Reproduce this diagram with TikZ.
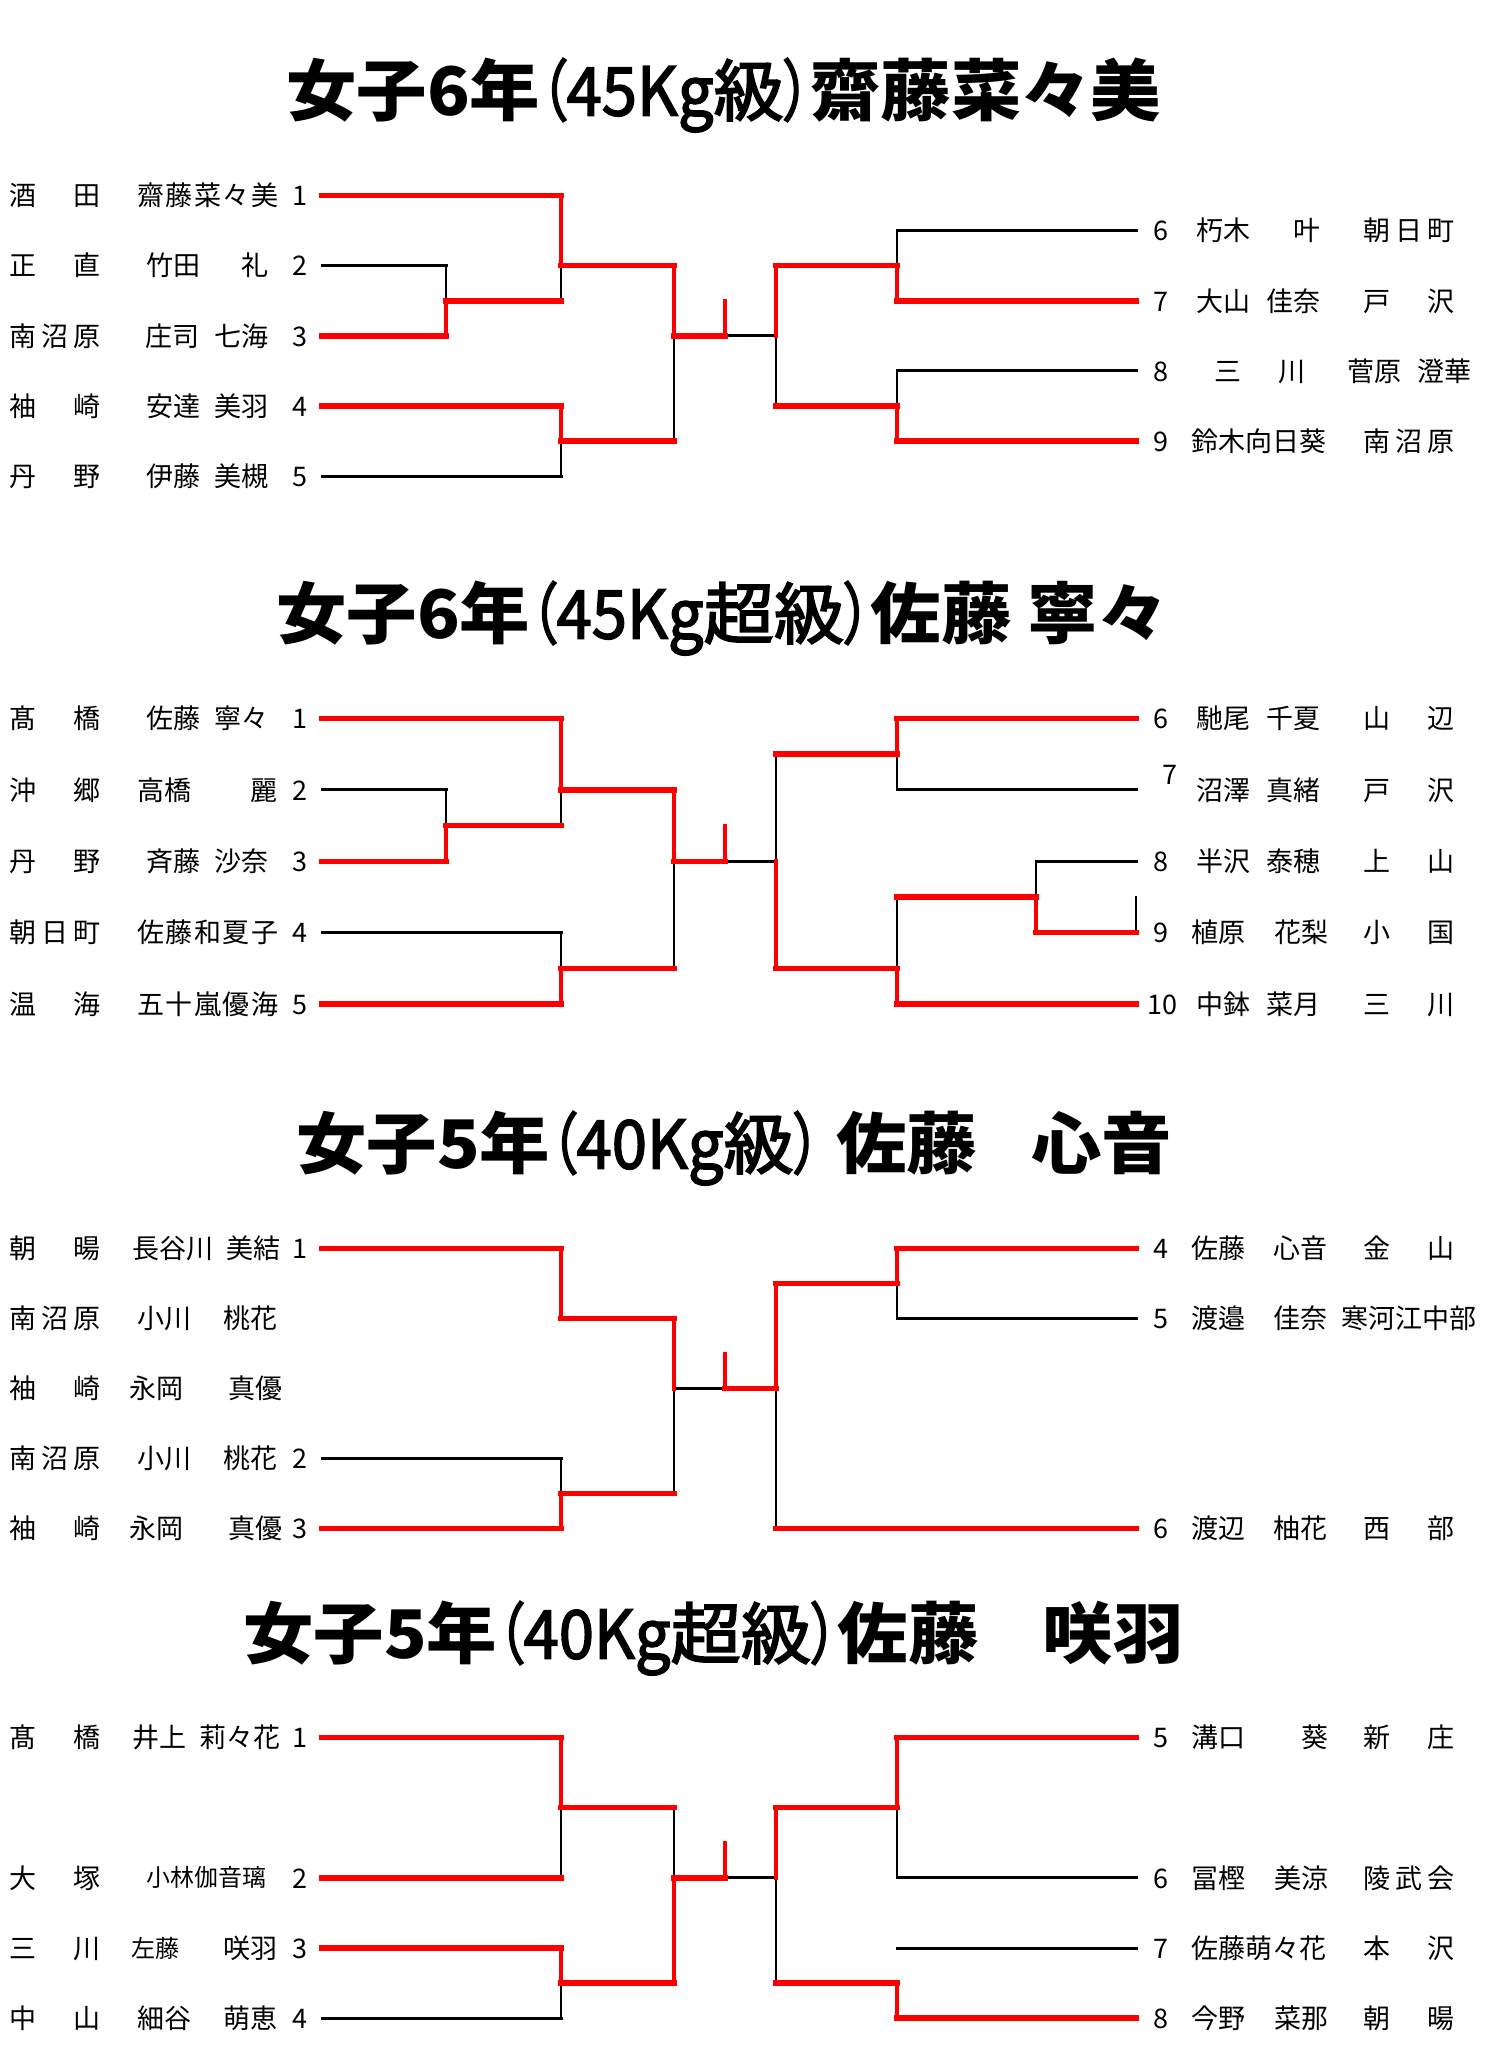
\documentclass[tikz,border=0pt]{standalone}
\usepackage{fontspec}
\usepackage{graphicx}
\newfontfamily\jp{Noto Sans CJK JP}
\newfontfamily\jpt[FakeStretch=1.05,RawFeature=+palt]{Noto Sans CJK JP}
\newfontfamily\jptm[FakeStretch=1.05,FakeBold=2.5,RawFeature=+palt]{Noto Sans CJK JP}
\newcommand\tp[1]{\scalebox{0.75}[1]{#1}}
\newcommand\tq[1]{\scalebox{0.9}[1]{#1}}
\newcommand\ttlmid[1]{{\jptm\mdseries#1}}
\newcommand\fivech[5]{\makebox[70.5pt]{#1\hfill#2\hfill#3\hfill#4\hfill#5}}
\newcommand\tmtwo[2]{\makebox[45.5pt]{#1\hfill#2}}
\newcommand\tmthree[3]{\makebox[45.5pt]{#1\hfill#2\hfill#3}}
\begin{document}
\begin{tikzpicture}[x=0.5pt,y=-0.5pt,
 bh/.style={line width=1.5pt,line cap=rect},
 bv/.style={line width=1.1pt,line cap=rect},
 rh/.style={line width=2.75pt,red,line cap=rect},
 rv/.style={line width=2pt,red,line cap=rect},
 txt/.style={inner sep=0pt,font=\jp\fontsize{13.5pt}{16pt}\selectfont,text height=11.2pt,text depth=0.95pt},
 sm/.style={inner sep=0pt,font=\jp\fontsize{12pt}{14pt}\selectfont,text height=10pt,text depth=0.85pt},
 ttl/.style={inner sep=0pt,font=\jpt\bfseries\fontsize{33.5pt}{40pt}\selectfont,text height=27.8pt,text depth=2.35pt}]
\fill[white] (0,0) rectangle (1484,2048);
\useasboundingbox (0,0) rectangle (1484,2048);

% ---------- titles ----------
\node[ttl,anchor=west] (t1) at (286,90) {女子6年\ttlmid{\tp{（}\tq{45Kg}級\tp{）}}齋藤菜々美};
\node[ttl,anchor=west] (t2) at (276,613) {女子6年\ttlmid{\tp{（}\tq{45Kg}超級\tp{）}}佐藤 寧々};
\node[ttl,anchor=west] (t3) at (296,1143) {女子5年\ttlmid{\tp{（}\tq{40Kg}級\tp{）}} 佐藤\hspace{27pt}心音};
\node[ttl,anchor=west] (t4) at (243,1633) {女子5年\ttlmid{\tp{（}\tq{40Kg}超級\tp{）}}佐藤　\hspace{-3pt}咲羽};

% ================= Section 1 =================
\draw[bh] (322,265.7) -- (446,265.7);
\draw[bv] (446,265.7) -- (446,300.8);
\draw[bv] (561,265.7) -- (561,300.8);
\draw[bh] (322,476.3) -- (561,476.3);
\draw[bv] (561,441.2) -- (561,476.3);
\draw[bv] (674,335.9) -- (674,441.2);
\draw[bh] (725,335.9) -- (776,335.9);
\draw[bv] (776,335.9) -- (776,406.1);
\draw[bh] (897,230.6) -- (1136,230.6);
\draw[bv] (897,230.6) -- (897,265.7);
\draw[bh] (897,371.0) -- (1136,371.0);
\draw[bv] (897,371.0) -- (897,406.1);
\draw[rh] (322,195.5) -- (561,195.5);
\draw[rv] (561,195.5) -- (561,265.7);
\draw[rh] (561,265.7) -- (674,265.7);
\draw[rh] (322,335.9) -- (446,335.9);
\draw[rv] (446,300.8) -- (446,335.9);
\draw[rh] (446,300.8) -- (561,300.8);
\draw[rh] (322,406.1) -- (561,406.1);
\draw[rv] (561,406.1) -- (561,441.2);
\draw[rh] (561,441.2) -- (674,441.2);
\draw[rv] (674,265.7) -- (674,335.9);
\draw[rh] (674,335.9) -- (725,335.9);
\draw[rv] (725,300.8) -- (725,335.9);
\draw[rh] (776,265.7) -- (897,265.7);
\draw[rv] (897,265.7) -- (897,300.8);
\draw[rh] (897,300.8) -- (1136,300.8);
\draw[rh] (776,406.1) -- (897,406.1);
\draw[rv] (897,406.1) -- (897,441.2);
\draw[rh] (897,441.2) -- (1136,441.2);
\draw[rv] (776,265.7) -- (776,335.9);

\node[txt,anchor=west] (s1a1) at (9,195.5) {\tmtwo{酒}{田}};
\node[txt,anchor=west] (s1b1) at (137,195.5) {\fivech{齋}{藤}{菜}{々}{美}};
\node[txt] (s1n1) at (300,195.5) {1};
\node[txt,anchor=west] (s1a2) at (9,265.7) {\tmtwo{正}{直}};
\node[txt,anchor=west] (s1b2) at (146,265.7) {竹田};
\node[txt,anchor=east] (s1c2) at (269,265.7) {礼};
\node[txt] (s1n2) at (300,265.7) {2};
\node[txt,anchor=west] (s1a3) at (9,335.9) {\tmthree{南}{沼}{原}};
\node[txt,anchor=west] (s1b3) at (145,335.9) {庄司};
\node[txt,anchor=east] (s1c3) at (269,335.9) {七海};
\node[txt] (s1n3) at (300,335.9) {3};
\node[txt,anchor=west] (s1a4) at (9,406.1) {\tmtwo{袖}{崎}};
\node[txt,anchor=west] (s1b4) at (146,406.1) {安達};
\node[txt,anchor=east] (s1c4) at (269,406.1) {美羽};
\node[txt] (s1n4) at (300,406.1) {4};
\node[txt,anchor=west] (s1a5) at (9,476.3) {\tmtwo{丹}{野}};
\node[txt,anchor=west] (s1b5) at (146,476.3) {伊藤};
\node[txt,anchor=east] (s1c5) at (269,476.3) {美槻};
\node[txt] (s1n5) at (300,476.3) {5};

\node[txt] (s1n6) at (1161,230.6) {6};
\node[txt,anchor=west] (s1b6) at (1196,230.6) {朽木};
\node[txt,anchor=east] (s1c6) at (1321,230.6) {叶};
\node[txt,anchor=west] (s1a6) at (1363,230.6) {\tmthree{朝}{日}{町}};
\node[txt] (s1n7) at (1161,300.8) {7};
\node[txt,anchor=west] (s1b7) at (1196,300.8) {大山};
\node[txt,anchor=east] (s1c7) at (1321,300.8) {佳奈};
\node[txt,anchor=west] (s1a7) at (1363,300.8) {\tmtwo{戸}{沢}};
\node[txt] (s1n8) at (1161,371.0) {8};
\node[txt,anchor=west] (s1b8) at (1214,371.0) {\tmtwo{三}{川}};
\node[txt,anchor=west] (s1c8) at (1347,371.0) {菅原};
\node[txt,anchor=east] (s1a8) at (1472,371.0) {澄華};
\node[txt] (s1n9) at (1161,441.2) {9};
\node[txt,anchor=west] (s1b9) at (1191,441.2) {鈴木向日葵};
\node[txt,anchor=west] (s1a9) at (1363,441.2) {\tmthree{南}{沼}{原}};

% ================= Section 2 =================
\draw[bh] (322,789.9) -- (446,789.9);
\draw[bv] (446,789.9) -- (446,825.6);
\draw[bv] (561,789.9) -- (561,825.6);
\draw[bh] (322,932.7) -- (561,932.7);
\draw[bv] (561,932.7) -- (561,968.4);
\draw[bv] (674,861.3) -- (674,968.4);
\draw[bh] (725,861.3) -- (776,861.3);
\draw[bv] (776,754.2) -- (776,861.3);
\draw[bh] (897,789.9) -- (1136,789.9);
\draw[bv] (897,754.2) -- (897,789.9);
\draw[bh] (1036,861.3) -- (1136,861.3);
\draw[bv] (1036,861.3) -- (1036,897.0);
\draw[bv] (897,897.0) -- (897,968.4);
\draw[bv] (1136,897.0) -- (1136,932.7);
\draw[rh] (322,718.5) -- (561,718.5);
\draw[rv] (561,718.5) -- (561,789.9);
\draw[rh] (561,789.9) -- (674,789.9);
\draw[rh] (322,861.3) -- (446,861.3);
\draw[rv] (446,825.6) -- (446,861.3);
\draw[rh] (446,825.6) -- (561,825.6);
\draw[rh] (322,1004.1) -- (561,1004.1);
\draw[rv] (561,968.4) -- (561,1004.1);
\draw[rh] (561,968.4) -- (674,968.4);
\draw[rv] (674,789.9) -- (674,861.3);
\draw[rh] (674,861.3) -- (725,861.3);
\draw[rv] (725,825.6) -- (725,861.3);
\draw[rh] (897,718.5) -- (1136,718.5);
\draw[rv] (897,718.5) -- (897,754.2);
\draw[rh] (776,754.2) -- (897,754.2);
\draw[rh] (1036,932.7) -- (1136,932.7);
\draw[rv] (1036,897.0) -- (1036,932.7);
\draw[rh] (897,897.0) -- (1036,897.0);
\draw[rh] (897,1004.1) -- (1136,1004.1);
\draw[rv] (897,968.4) -- (897,1004.1);
\draw[rh] (776,968.4) -- (897,968.4);
\draw[rv] (776,861.3) -- (776,968.4);

\node[txt,anchor=west] (s2a1) at (9,718.5) {\tmtwo{髙}{橋}};
\node[txt,anchor=west] (s2b1) at (146,718.5) {佐藤};
\node[txt,anchor=east] (s2c1) at (269,718.5) {寧々};
\node[txt] (s2n1) at (300,718.5) {1};
\node[txt,anchor=west] (s2a2) at (9,789.9) {\tmtwo{沖}{郷}};
\node[txt,anchor=west] (s2b2) at (137,789.9) {高橋};
\node[txt,anchor=east] (s2c2) at (278,789.9) {麗};
\node[txt] (s2n2) at (300,789.9) {2};
\node[txt,anchor=west] (s2a3) at (9,861.3) {\tmtwo{丹}{野}};
\node[txt,anchor=west] (s2b3) at (146,861.3) {斉藤};
\node[txt,anchor=east] (s2c3) at (269,861.3) {沙奈};
\node[txt] (s2n3) at (300,861.3) {3};
\node[txt,anchor=west] (s2a4) at (9,932.7) {\tmthree{朝}{日}{町}};
\node[txt,anchor=west] (s2b4) at (137,932.7) {\fivech{佐}{藤}{和}{夏}{子}};
\node[txt] (s2n4) at (300,932.7) {4};
\node[txt,anchor=west] (s2a5) at (9,1004.1) {\tmtwo{温}{海}};
\node[txt,anchor=west] (s2b5) at (137,1004.1) {\fivech{五}{十}{嵐}{優}{海}};
\node[txt] (s2n5) at (300,1004.1) {5};

\node[txt] (s2n6) at (1161,718.5) {6};
\node[txt,anchor=west] (s2b6) at (1196,718.5) {馳尾};
\node[txt,anchor=east] (s2c6) at (1321,718.5) {千夏};
\node[txt,anchor=west] (s2a6) at (1363,718.5) {\tmtwo{山}{辺}};
\node[txt] (s2n7) at (1170,774) {7};
\node[txt,anchor=west] (s2b7) at (1196,789.9) {沼澤};
\node[txt,anchor=east] (s2c7) at (1321,789.9) {真緒};
\node[txt,anchor=west] (s2a7) at (1363,789.9) {\tmtwo{戸}{沢}};
\node[txt] (s2n8) at (1161,861.3) {8};
\node[txt,anchor=west] (s2b8) at (1196,861.3) {半沢};
\node[txt,anchor=east] (s2c8) at (1321,861.3) {泰穂};
\node[txt,anchor=west] (s2a8) at (1363,861.3) {\tmtwo{上}{山}};
\node[txt] (s2n9) at (1161,932.7) {9};
\node[txt,anchor=west] (s2b9) at (1191,932.7) {植原};
\node[txt,anchor=east] (s2c9) at (1329,932.7) {花梨};
\node[txt,anchor=west] (s2a9) at (1363,932.7) {\tmtwo{小}{国}};
\node[txt] (s2n10) at (1162,1004.1) {10};
\node[txt,anchor=west] (s2b10) at (1196,1004.1) {中鉢};
\node[txt,anchor=east] (s2c10) at (1321,1004.1) {菜月};
\node[txt,anchor=west] (s2a10) at (1363,1004.1) {\tmtwo{三}{川}};

% ================= Section 3 =================
\draw[bh] (322,1458.6) -- (561,1458.6);
\draw[bv] (561,1458.6) -- (561,1493.6);
\draw[bv] (674,1388.6) -- (674,1493.6);
\draw[bh] (674,1388.6) -- (725,1388.6);
\draw[bv] (897,1283.6) -- (897,1318.6);
\draw[bh] (897,1318.6) -- (1136,1318.6);
\draw[bv] (776,1388.6) -- (776,1528.6);
\draw[rh] (322,1248.6) -- (561,1248.6);
\draw[rv] (561,1248.6) -- (561,1318.6);
\draw[rh] (561,1318.6) -- (674,1318.6);
\draw[rv] (674,1318.6) -- (674,1388.6);
\draw[rh] (322,1528.6) -- (561,1528.6);
\draw[rv] (561,1493.6) -- (561,1528.6);
\draw[rh] (561,1493.6) -- (674,1493.6);
\draw[rh] (725,1388.6) -- (776,1388.6);
\draw[rv] (725,1353.6) -- (725,1388.6);
\draw[rh] (897,1248.6) -- (1136,1248.6);
\draw[rv] (897,1248.6) -- (897,1283.6);
\draw[rh] (776,1283.6) -- (897,1283.6);
\draw[rv] (776,1283.6) -- (776,1388.6);
\draw[rh] (776,1528.6) -- (1136,1528.6);

\node[txt,anchor=west] (s3a1) at (9,1248.6) {\tmtwo{朝}{暘}};
\node[txt,anchor=west] (s3b1) at (132,1248.6) {長谷川};
\node[txt,anchor=east] (s3c1) at (281,1248.6) {美結};
\node[txt] (s3n1) at (300,1248.6) {1};
\node[txt,anchor=west] (s3a2) at (9,1318.6) {\tmthree{南}{沼}{原}};
\node[txt,anchor=west] (s3b2) at (137,1318.6) {小川};
\node[txt,anchor=east] (s3c2) at (278,1318.6) {桃花};
\node[txt,anchor=west] (s3a3) at (9,1388.6) {\tmtwo{袖}{崎}};
\node[txt,anchor=west] (s3b3) at (129,1388.6) {永岡};
\node[txt,anchor=east] (s3c3) at (283,1388.6) {真優};
\node[txt,anchor=west] (s3a4) at (9,1458.6) {\tmthree{南}{沼}{原}};
\node[txt,anchor=west] (s3b4) at (137,1458.6) {小川};
\node[txt,anchor=east] (s3c4) at (278,1458.6) {桃花};
\node[txt] (s3n4) at (300,1458.6) {2};
\node[txt,anchor=west] (s3a5) at (9,1528.6) {\tmtwo{袖}{崎}};
\node[txt,anchor=west] (s3b5) at (129,1528.6) {永岡};
\node[txt,anchor=east] (s3c5) at (283,1528.6) {真優};
\node[txt] (s3n5) at (300,1528.6) {3};

\node[txt] (s3n6) at (1161,1248.6) {4};
\node[txt,anchor=west] (s3b6) at (1191,1248.6) {佐藤};
\node[txt,anchor=east] (s3c6) at (1328,1248.6) {心音};
\node[txt,anchor=west] (s3a6) at (1363,1248.6) {\tmtwo{金}{山}};
\node[txt] (s3n7) at (1161,1318.6) {5};
\node[txt,anchor=west] (s3b7) at (1191,1318.6) {渡邉};
\node[txt,anchor=east] (s3c7) at (1328,1318.6) {佳奈};
\node[txt,anchor=west] (s3a7) at (1341,1318.6) {寒河江中部};
\node[txt] (s3n8) at (1161,1528.6) {6};
\node[txt,anchor=west] (s3b8) at (1191,1528.6) {渡辺};
\node[txt,anchor=east] (s3c8) at (1328,1528.6) {柚花};
\node[txt,anchor=west] (s3a8) at (1363,1528.6) {\tmtwo{西}{部}};

% ================= Section 4 =================
\draw[bv] (561,1807.6) -- (561,1877.8);
\draw[bh] (322,2018.2) -- (561,2018.2);
\draw[bv] (561,1983.1) -- (561,2018.2);
\draw[bv] (674,1807.6) -- (674,1877.8);
\draw[bh] (725,1877.8) -- (776,1877.8);
\draw[bv] (776,1877.8) -- (776,1983.1);
\draw[bv] (897,1807.6) -- (897,1877.8);
\draw[bh] (897,1877.8) -- (1136,1877.8);
\draw[bh] (897,1948.0) -- (1136,1948.0);
\draw[rh] (322,1737.4) -- (561,1737.4);
\draw[rv] (561,1737.4) -- (561,1807.6);
\draw[rh] (561,1807.6) -- (674,1807.6);
\draw[rh] (322,1877.8) -- (561,1877.8);
\draw[rh] (322,1948.0) -- (561,1948.0);
\draw[rv] (561,1948.0) -- (561,1983.1);
\draw[rh] (561,1983.1) -- (674,1983.1);
\draw[rv] (674,1877.8) -- (674,1983.1);
\draw[rh] (674,1877.8) -- (725,1877.8);
\draw[rv] (725,1842.7) -- (725,1877.8);
\draw[rh] (897,1737.4) -- (1136,1737.4);
\draw[rv] (897,1737.4) -- (897,1807.6);
\draw[rh] (776,1807.6) -- (897,1807.6);
\draw[rv] (776,1807.6) -- (776,1877.8);
\draw[rh] (897,2018.2) -- (1136,2018.2);
\draw[rv] (897,1983.1) -- (897,2018.2);
\draw[rh] (776,1983.1) -- (897,1983.1);

\node[txt,anchor=west] (s4a1) at (9,1737.4) {\tmtwo{髙}{橋}};
\node[txt,anchor=west] (s4b1) at (132,1737.4) {井上};
\node[txt,anchor=east] (s4c1) at (281,1737.4) {莉々花};
\node[txt] (s4n1) at (300,1737.4) {1};
\node[txt,anchor=west] (s4a2) at (9,1877.8) {\tmtwo{大}{塚}};
\node[sm,anchor=west] (s4b2) at (146,1877.8) {小林伽音璃};
\node[txt] (s4n2) at (300,1877.8) {2};
\node[txt,anchor=west] (s4a3) at (9,1948.0) {\tmtwo{三}{川}};
\node[sm,anchor=west] (s4b3) at (131,1948.0) {左藤};
\node[txt,anchor=east] (s4c3) at (278,1948.0) {咲羽};
\node[txt] (s4n3) at (300,1948.0) {3};
\node[txt,anchor=west] (s4a4) at (9,2018.2) {\tmtwo{中}{山}};
\node[txt,anchor=west] (s4b4) at (137,2018.2) {細谷};
\node[txt,anchor=east] (s4c4) at (278,2018.2) {萌恵};
\node[txt] (s4n4) at (300,2018.2) {4};

\node[txt] (s4n5) at (1161,1737.4) {5};
\node[txt,anchor=west] (s4b5) at (1191,1737.4) {溝口};
\node[txt,anchor=east] (s4c5) at (1329,1737.4) {葵};
\node[txt,anchor=west] (s4a5) at (1363,1737.4) {\tmtwo{新}{庄}};
\node[txt] (s4n6) at (1161,1877.8) {6};
\node[txt,anchor=west] (s4b6) at (1191,1877.8) {冨樫};
\node[txt,anchor=east] (s4c6) at (1329,1877.8) {美涼};
\node[txt,anchor=west] (s4a6) at (1363,1877.8) {\tmthree{陵}{武}{会}};
\node[txt] (s4n7) at (1161,1948.0) {7};
\node[txt,anchor=west] (s4b7) at (1191,1948.0) {佐藤萌々花};
\node[txt,anchor=west] (s4a7) at (1363,1948.0) {\tmtwo{本}{沢}};
\node[txt] (s4n8) at (1161,2018.2) {8};
\node[txt,anchor=west] (s4b8) at (1191,2018.2) {今野};
\node[txt,anchor=east] (s4c8) at (1329,2018.2) {菜那};
\node[txt,anchor=west] (s4a8) at (1363,2018.2) {\tmtwo{朝}{暘}};
\end{tikzpicture}
\end{document}
